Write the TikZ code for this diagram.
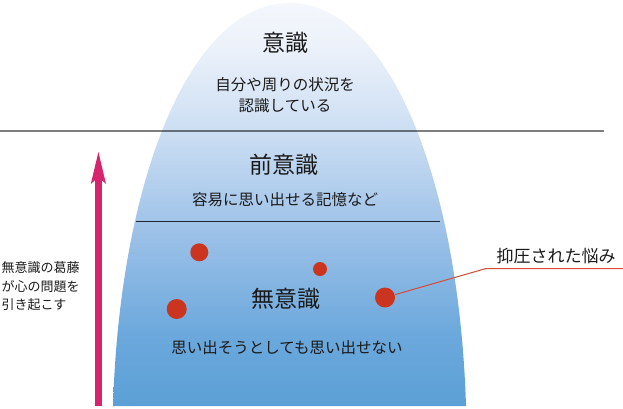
\documentclass[tikz,border=0pt]{standalone}
\usepackage{fontspec}
\setmainfont{Noto Sans CJK JP}
\definecolor{cA}{HTML}{F4F7FC}
\definecolor{cB}{HTML}{EDF2FA}
\definecolor{cC}{HTML}{CCDEF3}
\definecolor{cD}{HTML}{A2C4E9}
\definecolor{cE}{HTML}{6CA8DC}
\definecolor{cF}{HTML}{5BA0D6}
\definecolor{arrowpink}{RGB}{214,36,110}
\definecolor{dotred}{HTML}{CB3520}
\definecolor{leadred}{HTML}{D64A36}
\definecolor{darkline}{HTML}{1C2733}
\definecolor{txt}{HTML}{1A1A1A}
\pgfdeclareverticalshading{bellshade}{100bp}{color(0bp)=(cF); color(25bp)=(cF); color(34bp)=(cE); color(48bp)=(cD); color(59bp)=(cC); color(70bp)=(cB); color(75bp)=(cA); color(100bp)=(cA)}
\tikzset{
  title/.style={text=txt, font=\fontsize{23}{27}\selectfont, inner sep=0pt},
  desc/.style={text=txt, font=\fontsize{15.5}{21}\selectfont, align=center, inner sep=0pt},
  sidetext/.style={text=txt, font=\fontsize{13}{18.5}\selectfont, align=left, inner sep=0pt},
  labeltext/.style={text=txt, font=\fontsize{17}{20}\selectfont, inner sep=0pt},
  dot/.style={circle, fill=dotred, draw=none, inner sep=0pt},
  leader/.style={draw=leadred, line width=1pt},
  grayline/.style={draw=black, draw opacity=0.5, line width=2pt},
  navyline/.style={draw=darkline, line width=1.5pt},
}
\begin{document}
\begin{tikzpicture}[x=1pt,y=-1pt]
\useasboundingbox (0,0) rectangle (623,408);
% bell shape
\path[shading=bellshade] (113,406) .. controls (120,180) and (190,3) .. (289.5,3)
  .. controls (389,3) and (459,180) .. (466,406) -- cycle;
% dividing lines
\coordinate (g1) at (0,130.5);
\coordinate (g2) at (604,130.5);
\draw[grayline] (g1) -- (g2);
\coordinate (n1) at (136,221.5);
\coordinate (n2) at (440,221.5);
\draw[navyline] (n1) -- (n2);
% arrow
\fill[arrowpink] (94.8,176) rectangle (102,406);
\fill[arrowpink] (98.4,152) -- (106,184) -- (98.4,177) -- (90.8,184) -- cycle;
% texts
\node[title] (t1) at (285,43) {意識};
\node[desc] (d1t) at (285,95.5) {自分や周りの状況を\\認識している};
\node[title] (t2) at (284,165) {前意識};
\node[desc] (d2t) at (285,200) {容易に思い出せる記憶など};
\node[title] (t3) at (286,299) {無意識};
\node[desc] (d3t) at (287,348) {思い出そうとしても思い出せない};
\node[sidetext, anchor=west] (side) at (1.5,286.5) {無意識の葛藤\\が心の問題を\\引き起こす};
% dots
\node[dot, minimum size=18pt] (p1) at (199.3,252.3) {};
\node[dot, minimum size=14pt] (p2) at (320,269) {};
\node[dot, minimum size=20pt] (p3) at (176.7,309) {};
\node[dot, minimum size=20pt] (p4) at (385,297.5) {};
% leader
\coordinate (bend) at (486,268.5);
\coordinate (lend) at (623,268.5);
\draw[leader] (p4) -- (bend) -- (lend);
\node[labeltext] (lab) at (556,256) {抑圧された悩み};
\end{tikzpicture}
\end{document}
